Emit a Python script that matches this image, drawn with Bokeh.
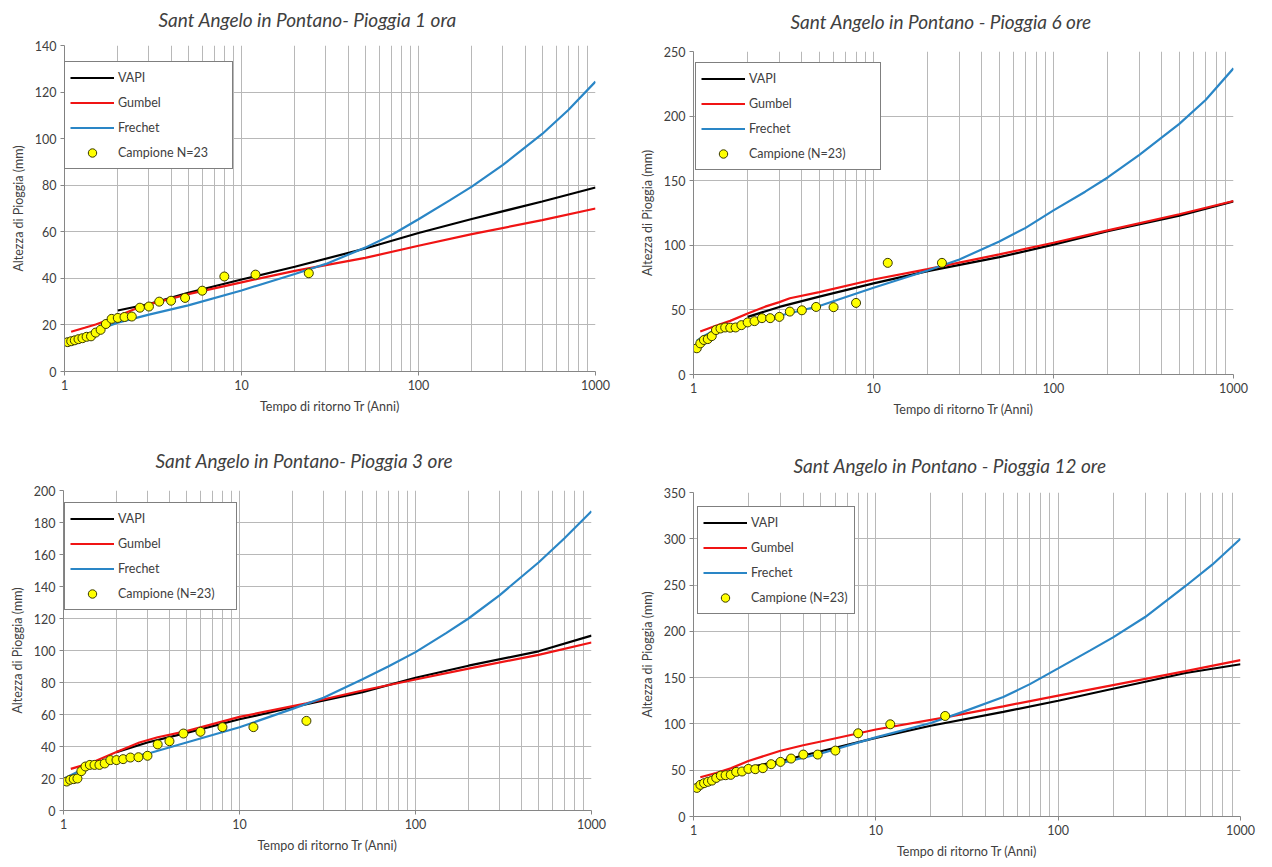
from bokeh.plotting import figure
from bokeh.layouts import column, row
from bokeh.models import FixedTicker, NumeralTickFormatter, Legend, LegendItem, Label
from bokeh.embed import file_html
from bokeh.resources import INLINE

# Plotting positions of the 23 annual maxima (Tr, years)
TR_SAMPLE = [1.043, 1.091, 1.143, 1.2, 1.263, 1.333, 1.412, 1.5, 1.6, 1.714, 1.846,
             2.0, 2.182, 2.4, 2.667, 3.0, 3.429, 4.0, 4.8, 6.0, 8.0, 12.0, 24.0]

# ---- Pioggia 1 ora ----
H1_SAMPLE = [12.6, 13.0, 13.4, 13.9, 14.3, 14.9, 15.1, 16.7, 17.9, 20.4, 22.6,
             23.0, 23.4, 23.6, 27.4, 27.9, 30.0, 30.4, 31.6, 34.7, 40.8, 41.6, 42.2]
H1_VAPI_TR = [2, 3, 5, 10, 20, 50, 100, 200, 500, 1000]
H1_VAPI = [26.2, 29.0, 33.8, 39.5, 45.0, 52.8, 59.5, 65.5, 73.0, 79.0]
H1_GUMBEL_TR = [1.09, 1.3, 1.5, 1.75, 2, 2.5, 3, 4, 5, 10, 20, 50, 100, 200, 500, 1000]
H1_GUMBEL = [17.1, 18.8, 20.2, 22.0, 23.8, 26.8, 28.8, 31.3, 33.2, 38.3, 43.2, 48.8, 54.0, 59.0, 65.0, 70.0]
H1_FRECHET_TR = [1.65, 2, 3, 5, 10, 20, 30, 50, 70, 100, 150, 200, 300, 500, 700, 1000]
H1_FRECHET = [18.7, 21.0, 24.4, 28.4, 34.8, 41.9, 46.2, 53.2, 58.5, 65.4, 73.5, 79.4, 88.7, 102.0, 112.2, 124.5]

# ---- Pioggia 6 ore ----
H6_SAMPLE = [20.3, 24.1, 26.7, 27.4, 29.7, 34.4, 35.6, 36.4, 36.2, 36.4, 38.2,
             40.3, 41.3, 43.6, 43.6, 44.6, 48.7, 49.7, 52.3, 52.1, 55.4, 86.4, 86.4]
H6_VAPI_TR = [2, 3, 5, 10, 20, 50, 100, 200, 500, 1000]
H6_VAPI = [44.6, 52.3, 60.3, 70.5, 80.0, 90.8, 100.5, 111.0, 123.0, 134.0]
H6_GUMBEL_TR = [1.09, 1.33, 1.6, 2, 2.5, 3, 3.43, 5, 10, 20, 50, 100, 200, 500, 1000]
H6_GUMBEL = [33.3, 37.7, 41.5, 47.2, 52.5, 56.0, 59.0, 63.8, 73.5, 81.5, 93.0, 102.0, 111.5, 124.0, 134.3]
H6_FRECHET_TR = [1.04, 1.15, 1.33, 1.6, 2, 3, 5, 10, 20, 30, 50, 70, 100, 150, 200, 300, 500, 700, 1000]
H6_FRECHET = [26.0, 30.0, 34.6, 37.5, 40.5, 45.5, 53.0, 67.2, 80.5, 89.0, 103.0, 113.5, 127.0, 141.5, 152.5, 170.0, 194.0, 212.5, 237.0]

# ---- Pioggia 3 ore ----
H3_SAMPLE = [18.1, 19.2, 19.6, 20.0, 24.6, 27.5, 28.5, 28.5, 28.5, 29.4, 31.5,
             31.5, 32.1, 33.1, 33.3, 34.2, 41.3, 43.3, 48.1, 49.2, 52.1, 52.1, 56.0]
H3_VAPI_TR = [2, 3, 5, 10, 20, 50, 100, 200, 500, 1000]
H3_VAPI = [36.5, 42.5, 48.5, 57.0, 64.5, 74.0, 83.0, 90.5, 99.5, 109.3]
H3_GUMBEL_TR = [1.1, 1.42, 2, 2.7, 3.43, 5, 10, 24, 50, 100, 200, 500, 1000]
H3_GUMBEL = [26.0, 29.6, 36.5, 42.5, 45.8, 49.6, 58.5, 67.0, 75.0, 81.9, 88.7, 97.3, 105.0]
H3_FRECHET_TR = [1.03, 1.33, 2, 3, 5, 10, 20, 30, 50, 70, 100, 150, 200, 300, 500, 700, 1000]
H3_FRECHET = [20.5, 26.5, 31.5, 35.5, 42.5, 52.0, 63.5, 70.5, 82.0, 90.0, 99.0, 111.0, 120.0, 134.5, 155.0, 170.0, 187.0]

# ---- Pioggia 12 ore ----
H12_SAMPLE = [30.9, 34.2, 36.0, 37.5, 38.8, 41.7, 44.2, 44.6, 45.0, 48.2, 48.6,
              51.4, 51.1, 52.2, 56.5, 59.0, 62.6, 66.9, 66.9, 71.2, 89.9, 99.6, 108.6]
H12_VAPI_TR = [2, 3, 5, 10, 20, 50, 100, 200, 500, 1000]
H12_VAPI = [53.0, 60.0, 70.5, 85.0, 98.0, 113.0, 125.0, 138.0, 155.0, 164.5]
H12_GUMBEL_TR = [1.09, 1.33, 1.6, 2, 3, 4, 5, 10, 24, 50, 100, 200, 500, 1000]
H12_GUMBEL = [42.4, 47.0, 52.0, 60.0, 71.0, 77.0, 81.0, 94.0, 107.0, 119.0, 130.5, 142.0, 157.0, 169.0]
H12_FRECHET_TR = [1.04, 1.33, 2, 3, 5, 10, 20, 30, 50, 70, 100, 150, 200, 300, 500, 700, 1000]
H12_FRECHET = [31.5, 40.0, 50.5, 57.5, 68.0, 85.5, 101.0, 113.0, 129.0, 143.0, 160.0, 179.5, 193.5, 215.5, 249.0, 272.0, 300.0]

X_TICKS = [1, 10, 100, 1000]
X_MINOR = [m * d for d in (1, 10, 100) for m in range(2, 10)]

FONT = "Lato"
GRID = "#b8b8b8"
AXIS = "#868686"
TEXT = "#404040"
C_VAPI = "#000000"
C_GUMBEL = "#f01414"
C_FRECHET = "#2a86c6"
PANEL_W = 636


def heading(text, strip_h, text_x, text_y):
    """Thin strip above a chart that carries its italic heading."""
    s = figure(width=PANEL_W, height=strip_h, x_range=(0, 1), y_range=(0, 1),
               x_axis_location=None, y_axis_location=None,
               output_backend="svg", toolbar_location=None,
               min_border=0, background_fill_color="white", border_fill_color="white")
    s.outline_line_color = None
    s.grid.visible = False
    s.add_layout(Label(x=text_x, y=text_y, x_units="screen", y_units="screen",
                       text=text, text_font=FONT, text_font_style="italic",
                       text_font_size="19px", text_color=TEXT,
                       text_align="left", text_baseline="middle"))
    return s


def panel(y_end, y_step, vapi, gumbel, frechet, sample, sample_label,
          height, borders, legend_xy, label_width):
    left, right, top, bottom = borders
    p = figure(width=PANEL_W, height=height, x_axis_type="log",
               x_range=(1, 1000), y_range=(0, y_end),
               output_backend="svg", toolbar_location=None,
               min_border_left=left, min_border_right=right,
               min_border_top=top, min_border_bottom=bottom,
               background_fill_color="white", border_fill_color="white")
    p.outline_line_color = None

    p.xaxis.ticker = FixedTicker(ticks=X_TICKS, minor_ticks=X_MINOR)
    p.xaxis.formatter = NumeralTickFormatter(format="0")
    p.yaxis.ticker = FixedTicker(ticks=list(range(0, y_end + 1, y_step)))
    p.xaxis.axis_label = "Tempo di ritorno Tr (Anni)"
    p.yaxis.axis_label = "Altezza di Pioggia (mm)"
    for ax in (p.xaxis, p.yaxis):
        ax.axis_line_color = AXIS
        ax.major_tick_line_color = AXIS
        ax.major_tick_out = 4
        ax.major_tick_in = 0
        ax.minor_tick_out = 0
        ax.minor_tick_in = 0
        ax.major_label_text_font = FONT
        ax.major_label_text_font_size = "12.5px"
        ax.major_label_text_color = TEXT
        ax.major_label_standoff = 4
        ax.axis_label_text_font = FONT
        ax.axis_label_text_font_size = "12.5px"
        ax.axis_label_text_font_style = "normal"
        ax.axis_label_text_color = TEXT
        ax.axis_label_standoff = 6

    p.xgrid.grid_line_color = GRID
    p.xgrid.minor_grid_line_color = GRID
    p.ygrid.grid_line_color = GRID

    r_v = p.line(vapi[0], vapi[1], line_color=C_VAPI, line_width=2.2)
    r_g = p.line(gumbel[0], gumbel[1], line_color=C_GUMBEL, line_width=2.2)
    r_f = p.line(frechet[0], frechet[1], line_color=C_FRECHET, line_width=2.2)
    r_s = p.scatter(TR_SAMPLE, sample, size=9, fill_color="#ffff00",
                    line_color="#3a3a00", line_width=1)

    legend = Legend(items=[LegendItem(label="VAPI", renderers=[r_v]),
                           LegendItem(label="Gumbel", renderers=[r_g]),
                           LegendItem(label="Frechet", renderers=[r_f]),
                           LegendItem(label=sample_label, renderers=[r_s])],
                    location=legend_xy, margin=0, padding=5, spacing=4,
                    glyph_width=44, glyph_height=21, label_height=21,
                    label_width=label_width, label_standoff=4,
                    label_text_font=FONT, label_text_font_size="12.5px",
                    label_text_color=TEXT,
                    border_line_color="black", border_line_width=1.5,
                    background_fill_color="white", background_fill_alpha=1)
    p.add_layout(legend)
    return p


s1 = heading("Sant Angelo in Pontano- Pioggia 1 ora", 35, 94, 16)
p1 = panel(140, 20, (H1_VAPI_TR, H1_VAPI), (H1_GUMBEL_TR, H1_GUMBEL), (H1_FRECHET_TR, H1_FRECHET),
           H1_SAMPLE, "Campione N=23", 398, (64, 41, 10, 62), (0, 202), 109)

s2 = heading("Sant Angelo in Pontano - Pioggia 6 ore", 35, 97, 14)
p2 = panel(250, 50, (H6_VAPI_TR, H6_VAPI), (H6_GUMBEL_TR, H6_GUMBEL), (H6_FRECHET_TR, H6_FRECHET),
           H6_SAMPLE, "Campione (N=23)", 398, (57, 39, 16, 59), (2, 204), 126)

s3 = heading("Sant Angelo in Pontano- Pioggia 3 ore", 45, 92, 18)
p3 = panel(200, 20, (H3_VAPI_TR, H3_VAPI), (H3_GUMBEL_TR, H3_GUMBEL), (H3_FRECHET_TR, H3_FRECHET),
           H3_SAMPLE, "Campione (N=23)", 389, (63, 45, 12, 57), (1, 200), 113)

s4 = heading("Sant Angelo in Pontano - Pioggia 12 ore", 45, 100, 13)
p4 = panel(350, 50, (H12_VAPI_TR, H12_VAPI), (H12_GUMBEL_TR, H12_GUMBEL), (H12_FRECHET_TR, H12_FRECHET),
           H12_SAMPLE, "Campione (N=23)", 389, (52, 32, 14, 51), (4, 202), 98)

layout = column(row(column(s1, p1, spacing=0), column(s2, p2, spacing=0), spacing=0),
                row(column(s3, p3, spacing=0), column(s4, p4, spacing=0), spacing=0),
                spacing=0)

with open("out.html", "w") as f:
    f.write(file_html(layout, INLINE))
